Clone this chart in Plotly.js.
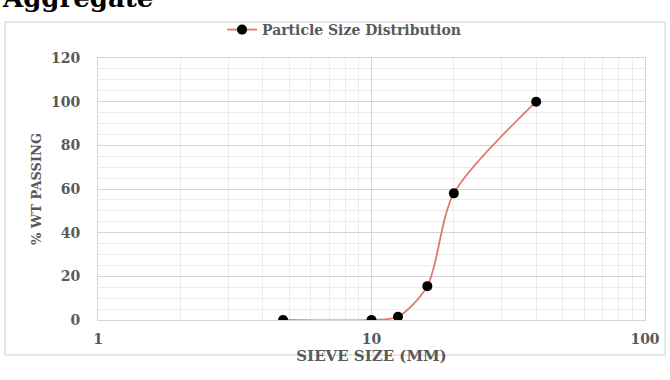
<!DOCTYPE html>
<html>
<head>
<meta charset="utf-8">
<script src="https://cdn.plot.ly/plotly-3.0.1.min.js"></script>
<style>
html,body{margin:0;padding:0;background:#fff;}
#chart{width:670px;height:380px;}
</style>
</head>
<body>
<div id="chart"></div>
<script>
const sieveSize = [4.75, 10, 12.5, 16, 20, 40];
const pctPassing = [0, 0, 1.5, 15.5, 58, 100];
const seriesName = 'Particle Size Distribution';
const xTickVals = [1, 10, 100];
const xTickText = ['1', '10', '100'];
const yTickVals = [0, 20, 40, 60, 80, 100, 120];

const fontFam = '"DejaVu Serif", "Liberation Serif", serif';
const gray = '#595959';

const L = 98, R = 25, T = 58, B = 60, W = 670, H = 380;
const pw = W - L - R, ph = H - T - B;
const px = v => (v - L) / pw;
const py = v => (H - B - v) / ph;

const trace = {
  x: sieveSize,
  y: pctPassing,
  type: 'scatter',
  mode: 'lines+markers',
  name: seriesName,
  line: {color: '#E07B67', width: 1.8, shape: 'spline', smoothing: 0.8},
  marker: {color: '#000', size: 10}
};

const layout = {
  width: W, height: H,
  margin: {l: L, r: R, t: T, b: B},
  paper_bgcolor: '#fff',
  plot_bgcolor: '#fff',
  font: {family: fontFam, color: gray, size: 13},
  showlegend: true,
  legend: {
    orientation: 'h', x: px(344), xanchor: 'center', y: py(30), yanchor: 'middle',
    font: {family: fontFam, size: 14, color: gray, weight: 'bold'},
    bgcolor: 'rgba(0,0,0,0)'
  },
  xaxis: {
    type: 'log', range: [0, 2],
    tickvals: xTickVals, ticktext: xTickText,
    tickfont: {family: fontFam, size: 14, color: gray, weight: 'bold'},
    showgrid: true, gridcolor: '#d4d4d4', gridwidth: 1,
    minor: {showgrid: true, gridcolor: '#ececec', tickvals: [2,3,4,5,6,7,8,9,20,30,40,50,60,70,80,90]},
    zeroline: false, showline: true, linecolor: '#d4d4d4', mirror: true,
    ticks: '', ticklen: 0, ticklabelstandoff: 6,
    title: {text: 'SIEVE SIZE (MM)', font: {family: fontFam, size: 15, color: gray, weight: 'bold'}, standoff: 2}
  },
  yaxis: {
    range: [0, 120],
    tickvals: yTickVals,
    tickfont: {family: fontFam, size: 14, color: gray, weight: 'bold'},
    showgrid: true, gridcolor: '#d4d4d4', gridwidth: 1,
    minor: {showgrid: true, gridcolor: '#ececec', dtick: 5},
    zeroline: false, showline: true, linecolor: '#d4d4d4', mirror: true,
    ticks: '', ticklen: 0, ticklabelstandoff: 14,
    title: {text: '% WT PASSING', font: {family: fontFam, size: 13, color: gray, weight: 'bold'}, standoff: 6}
  },
  shapes: [
    {type: 'rect', xref: 'paper', yref: 'paper', x0: px(5), x1: px(665), y0: py(355), y1: py(22),
     line: {color: '#d0d0d0', width: 1}, fillcolor: 'rgba(0,0,0,0)', layer: 'below'}
  ],
  annotations: [
    {text: 'Aggregate', xref: 'paper', yref: 'paper', x: px(0), xanchor: 'left',
     y: py(-2), yanchor: 'middle', showarrow: false,
     font: {family: fontFam, size: 26, color: '#000', weight: 'bold'}}
  ]
};

Plotly.newPlot('chart', [trace], layout, {displayModeBar: false, staticPlot: true});
</script>
</body>
</html>
